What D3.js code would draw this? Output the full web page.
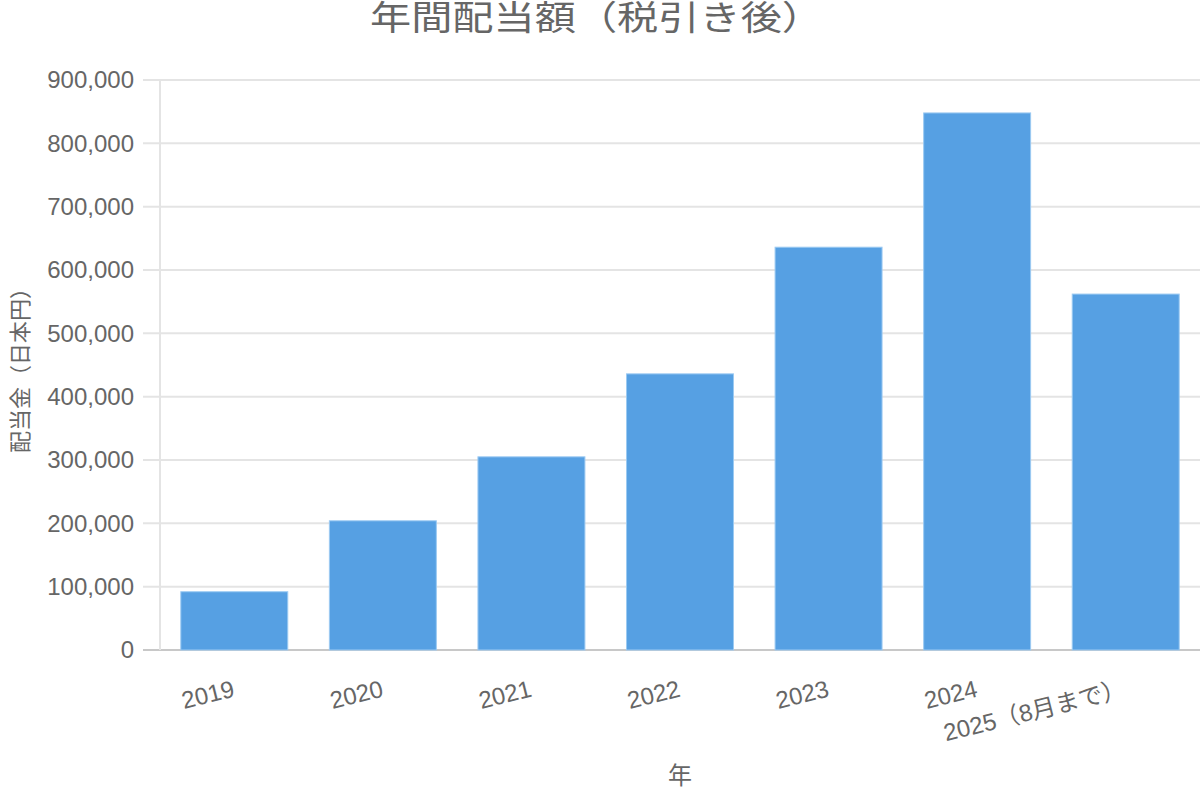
<!DOCTYPE html>
<html lang="ja">
<head>
<meta charset="utf-8">
<script src="https://cdn.jsdelivr.net/npm/d3@7"></script>
<style>
    body { margin: 0; background: #fff; }
    text { font-family: "Liberation Sans", Arial, "Noto Sans CJK JP", sans-serif; fill: #666; }
</style>
</head>
<body>
<div id="chart"></div>
<script>
// Data
var years = ["2019", "2020", "2021", "2022", "2023", "2024", "2025（8月まで）"];
var dividends = [92000, 204000, 305000, 436000, 636000, 848000, 562000];
var yTicks = [0, 100000, 200000, 300000, 400000, 500000, 600000, 700000, 800000, 900000];

var chartTitle = "年間配当額（税引き後）";
var xTitle = "年";
var yTitle = "配当金（日本円）";

var data = years.map(function (y, i) { return { year: y, value: dividends[i] }; });

// Add svg main container
var svg = d3.select("#chart").append("svg").attr("width", 1200).attr("height", 800);

// Margins
var margin = { left: 160, top: 80, right: 0, bottom: 150 };
var width = svg.attr("width") - margin.left - margin.right;
var height = svg.attr("height") - margin.top - margin.bottom;

var chart = svg.append("g").attr("transform", "translate(" + margin.left + "," + margin.top + ")");

// Scales
var x = d3.scaleBand()
    .domain(years)
    .range([0, width])
    .paddingInner(0.28)
    .paddingOuter(0.14);

var y = d3.scaleLinear()
    .domain([0, 900000])
    .range([height, 0]);

// Gridlines (extend 17px into the tick area like the original)
chart.append("g")
    .selectAll("line")
    .data(yTicks)
    .enter().append("line")
    .attr("x1", -17)
    .attr("x2", width)
    .attr("y1", d => y(d))
    .attr("y2", d => y(d))
    .attr("stroke", d => d === 0 ? "#c8c8c8" : "#e4e4e4")
    .attr("stroke-width", 2);

// Left axis line
chart.append("line")
    .attr("x1", 0).attr("x2", 0)
    .attr("y1", y(900000)).attr("y2", y(0))
    .attr("stroke", "#e4e4e4")
    .attr("stroke-width", 2);

// Y axis labels
var yAxis = chart.append("g")
    .attr("transform", "translate(-23,0)")
    .call(d3.axisLeft(y).tickValues(yTicks).tickSize(0).tickFormat(d3.format(",")));
yAxis.select(".domain").remove();
yAxis.selectAll("text")
    .attr("fill", "#666")
    .style("font-size", "24px");

// Bars
chart.selectAll("rec")
    .data(data)
    .enter().append("rect")
    .attr("class", "bar")
    .attr("x", d => x(d.year))
    .attr("y", d => y(d.value))
    .attr("width", x.bandwidth())
    .attr("height", d => y(0) - y(d.value))
    .attr("fill", "#56a0e3")
    .attr("stroke", "#9ccaf2")
    .attr("stroke-width", 1);

// X axis labels, rotated, right end at the band centre
chart.append("g")
    .selectAll("text")
    .data(years)
    .enter().append("text")
    .attr("transform", d => "translate(" + (x(d) + x.bandwidth() / 2) + "," + (height + 40) + ") rotate(-14)")
    .attr("text-anchor", "end")
    .attr("dominant-baseline", "middle")
    .style("font-size", "24px")
    .text(d => d);

// Title
svg.append("text")
    .attr("x", 370)
    .attr("y", 30)
    .attr("textLength", 453)
    .attr("lengthAdjust", "spacingAndGlyphs")
    .style("font-size", "34px")
    .text(chartTitle);

// Axis titles
svg.append("text")
    .attr("x", margin.left + width / 2)
    .attr("y", 775)
    .attr("text-anchor", "middle")
    .attr("dominant-baseline", "central")
    .style("font-size", "24px")
    .text(xTitle);

svg.append("text")
    .attr("transform", "translate(20," + (margin.top + height / 2) + ") rotate(-90)")
    .attr("text-anchor", "middle")
    .attr("dominant-baseline", "central")
    .style("font-size", "22px")
    .text(yTitle);
</script>
</body>
</html>
